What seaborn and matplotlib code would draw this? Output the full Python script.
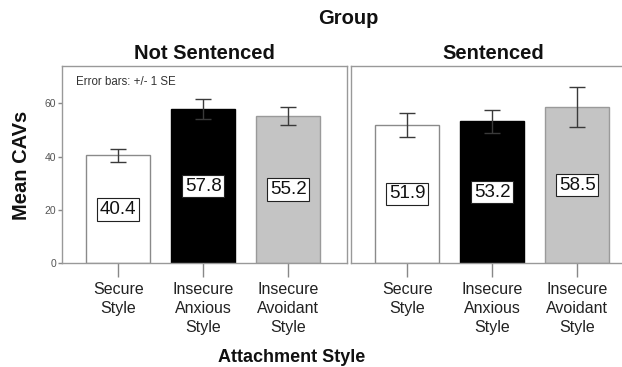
import matplotlib
matplotlib.use("Agg")
import matplotlib.pyplot as plt
import seaborn as sns
import pandas as pd
import numpy as np

styles = ["Secure\nStyle", "Insecure\nAnxious\nStyle", "Insecure\nAvoidant\nStyle"]
groups = ["Not Sentenced", "Sentenced"]
not_sentenced_means = [40.4, 57.8, 55.2]
sentenced_means = [51.9, 53.2, 58.5]
not_sentenced_se = [2.6, 3.8, 3.4]
sentenced_se = [4.5, 4.2, 7.6]
bar_colors = ["#ffffff", "#000000", "#c4c4c4"]
edge_colors = ["#8a8a8a", "#000000", "#9a9a9a"]
y_ticks = [0, 20, 40, 60]

sns.set_theme(style="white")
plt.rcParams['font.family'] = ['Liberation Sans', 'DejaVu Sans']

W, H = 622, 367
fig = plt.figure(figsize=(W / 100, H / 100), dpi=100)


def rect(l, t, r, b):
    return [l / W, 1 - b / H, (r - l) / W, (b - t) / H]


ax1 = fig.add_axes(rect(62, 66, 347, 263))
ax2 = fig.add_axes(rect(351, 66, 636, 263))

panels = [(ax1, groups[0], not_sentenced_means, not_sentenced_se),
          (ax2, groups[1], sentenced_means, sentenced_se)]

for ax, title, means, ses in panels:
    df = pd.DataFrame({"style": styles, "mean": means, "se": ses})
    sns.barplot(data=df, x="style", y="mean", hue="style", order=styles,
                palette=dict(zip(styles, bar_colors)), width=0.75,
                linewidth=1, errorbar=None, legend=False, ax=ax)
    for patch, ec in zip(ax.patches, edge_colors):
        patch.set_edgecolor(ec)
    pos = np.arange(len(styles))
    ax.errorbar(pos, df["mean"], yerr=df["se"], fmt="none", ecolor="#3a3a3a",
                elinewidth=1, capsize=6, capthick=1, zorder=5)
    for i, m in enumerate(means):
        ax.text(pos[i], m / 2, f"{m:.1f}", ha="center", va="center",
                fontsize=13.5, color="#111111", zorder=6,
                bbox=dict(boxstyle="square,pad=0.15", fc="white",
                          ec="#222222", lw=0.8))
    ax.set_xlim(-0.66, 2.69)
    ax.set_ylim(0, 74)
    ax.set_xlabel("")
    ax.set_ylabel("")
    ax.set_title(title, fontsize=14.5, fontweight="bold", pad=5, color="#111111")
    for sp in ax.spines.values():
        sp.set_color("#999999")
        sp.set_linewidth(1)
        sp.set_visible(True)
    ax.tick_params(axis="x", length=10, width=1, color="#888888",
                   labelsize=11.5, labelcolor="#222222", pad=4, bottom=True)
    for lbl in ax.get_xticklabels():
        lbl.set_linespacing(1.3)

ax1.set_yticks(y_ticks)
ax1.tick_params(axis="y", length=3, width=1, color="#888888", labelsize=7.5,
                labelcolor="#555555", pad=1, left=True)
ax2.set_yticks([])

ax1.text((76 - 62) / 285, (263 - 82) / 197, "Error bars: +/- 1 SE",
         transform=ax1.transAxes, fontsize=8.3, color="#333333", va="center")

fig.text(348 / W, 1 - 19 / H, "Group", ha="center", va="center",
         fontsize=14.5, fontweight="bold", color="#111111")
fig.text(22 / W, 1 - 165 / H, "Mean CAVs", ha="center", va="center",
         rotation=90, fontsize=14.5, fontweight="bold", color="#111111")
fig.text(292 / W, 1 - 357 / H, "Attachment Style", ha="center", va="center",
         fontsize=13, fontweight="bold", color="#111111")

fig.savefig("out.png", dpi=100)
